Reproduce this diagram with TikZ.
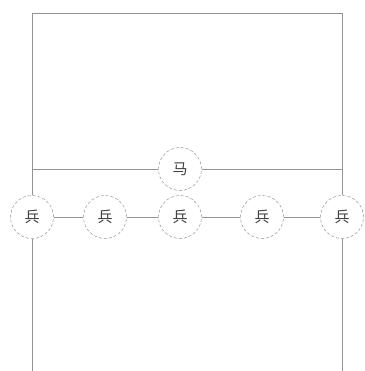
\documentclass[tikz,border=0pt]{standalone}
\usepackage{fontspec}
\usepackage{tikz}
\newfontfamily\cjk{Noto Sans CJK SC}
\usetikzlibrary{positioning}
\tikzset{
  piece/.style={circle,draw=gray,dash pattern=on 3pt off 2pt,minimum size=43pt,inner sep=0pt,
    text=black!75,font=\cjk\fontsize{15}{15}\selectfont},
  wire/.style={draw=gray!85,line width=0.7pt}
}
\begin{document}
\begin{tikzpicture}[x=1pt,y=-1pt]
\useasboundingbox (0,0) rectangle (364,371);
% corners of the frame
\coordinate (tl) at (32,13);
\coordinate (tr) at (342,13);
\coordinate (bl) at (32,371);
\coordinate (br) at (342,371);
\coordinate (ml) at (32,169);
\coordinate (mr) at (342,169);
% pieces
\node [piece] (ma) at (180,169) {马};
\node [piece] (b1) at (32,217) {兵};
\node [piece] (b2) at (105,217) {兵};
\node [piece] (b3) at (180,217) {兵};
\node [piece] (b4) at (262,217) {兵};
\node [piece] (b5) at (342,217) {兵};
% lines
\draw [wire] (b1) -- (tl) -- (tr) -- (b5);
\draw [wire] (b1) -- (bl);
\draw [wire] (b5) -- (br);
\draw [wire] (ml) -- (ma) -- (mr);
\draw [wire] (b1) -- (b2);
\draw [wire] (b2) -- (b3);
\draw [wire] (b3) -- (b4);
\draw [wire] (b4) -- (b5);
\end{tikzpicture}
\end{document}
